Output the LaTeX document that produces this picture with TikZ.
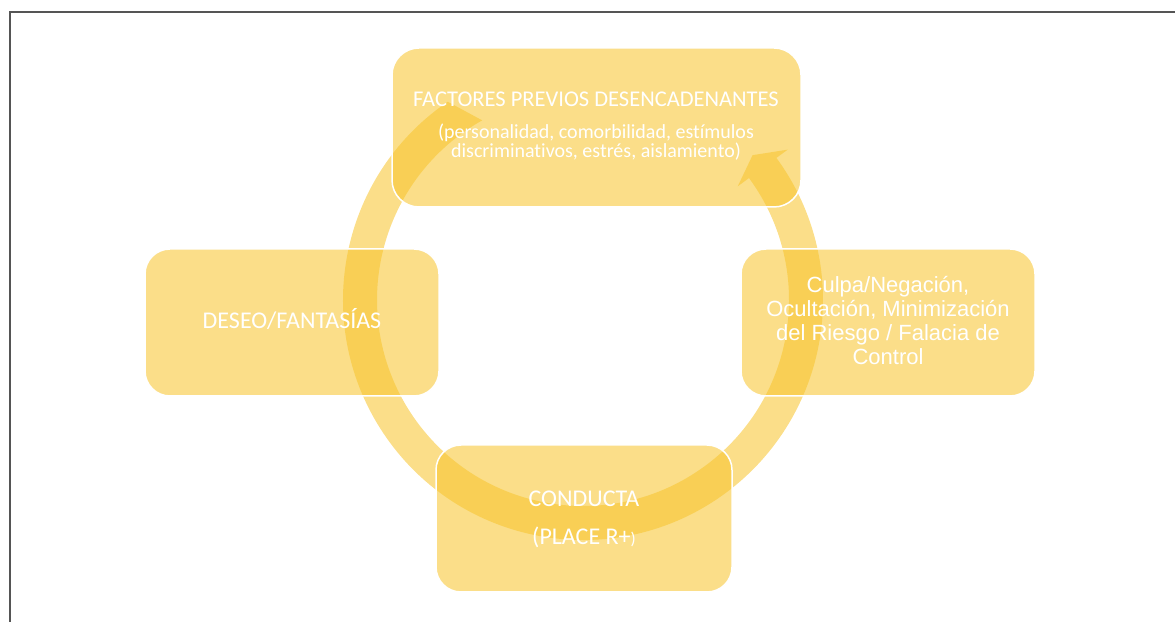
\documentclass[tikz,border=0pt]{standalone}
\usepackage{fontspec}
\setmainfont{Carlito}[Ligatures=NoCommon]
\newfontfamily\arialfont{Liberation Sans}
\usetikzlibrary{calc}
\definecolor{gold}{RGB}{247,196,44}
\definecolor{framegray}{RGB}{85,85,85}
\begin{document}
\begin{tikzpicture}[x=1pt,y=1pt,
  box/.style={rectangle, rounded corners=25pt, fill=gold, fill opacity=0.56,
              draw=white, line width=1.5pt, inner sep=0pt},
  lbl/.style={text=white, anchor=base, inner sep=0pt},
  ttl/.style={lbl, font=\fontsize{22.5}{24}\selectfont},
  sub/.style={lbl, font=\fontsize{20}{20}\selectfont},
  big/.style={lbl, font=\fontsize{24}{26}\selectfont},
  ari/.style={lbl, font=\arialfont\fontsize{22}{24}\selectfont},
]
\useasboundingbox (0,0) rectangle (1175,621);
% frame
\draw[framegray, line width=2pt] (10,-10) -- (10,609) -- (1190,609);

% circular arrow
\coordinate (C) at (583,321);
\fill[gold, fill opacity=0.56]
  ($(C)+(124.3:240)$) arc[start angle=124.3, end angle=396.3, radius=240]
  -- ($(C)+(36.3:254)$) -- ($(C)+(40.5:223)$) -- ($(C)+(36.3:192)$)
  -- ($(C)+(36.3:206)$) arc[start angle=396.3, end angle=119.3, radius=206]
  -- cycle;

% boxes
\node[box, rounded corners=27pt, minimum width=409pt, minimum height=159pt] (top) at (596.5,493.5) {};
\node[box, minimum width=294pt, minimum height=147pt] (left) at (292,298.5) {};
\node[box, minimum width=294pt, minimum height=147pt] (right) at (888,298.5) {};
\node[box, minimum width=296pt, minimum height=147pt] (bottom) at (584,102.5) {};

% texts
\node[ttl] (t1) at (596,514) {FACTORES PREVIOS DESENCADENANTES};
\node[sub] (t2) at (596,482) {(personalidad, comorbilidad, estímulos};
\node[sub] (t3) at (596,463) {discriminativos, estrés, aislamiento)};

\node[big] (l1) at (292,292) {DESEO/FANTASÍAS};

\node[ari] (r1) at (888,328.3) {Culpa/Negación,};
\node[ari] (r2) at (888,304) {Ocultación, Minimización};
\node[ari] (r3) at (888,280) {del Riesgo / Falacia de};
\node[ari] (r4) at (888,256) {Control};

\node[big] (b1) at (584,114) {CONDUCTA};
\node[big] (b2) at (584,76) {(PLACE R+{\fontsize{17}{18}\selectfont)}};
\end{tikzpicture}
\end{document}
